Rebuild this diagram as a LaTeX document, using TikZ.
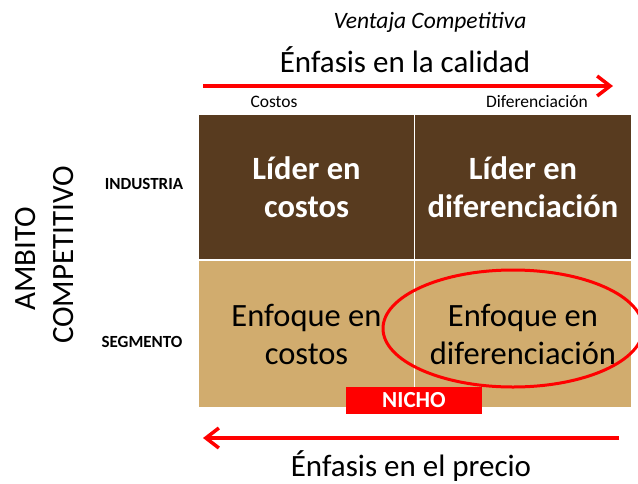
\documentclass[tikz,border=0pt]{standalone}
\usepackage{fontspec}
\setmainfont{Carlito}
\usetikzlibrary{arrows.meta,shapes.geometric}
\definecolor{cafe}{HTML}{583B1F}
\definecolor{arena}{HTML}{D1AC6E}
\definecolor{rojo}{HTML}{FF0000}

\begin{document}
\begin{tikzpicture}[x=1pt,y=-1pt]
% Define the node styles
\tikzstyle{celda} = [draw=white, line width=1.5pt, minimum width=217pt, align=center, inner sep=0pt]
\tikzstyle{lider} = [celda, fill=cafe, text=white, minimum height=146pt, font=\fontsize{32.5}{38}\selectfont\bfseries]
\tikzstyle{enfoque} = [celda, fill=arena, text=black, minimum height=148pt, font=\fontsize{32.5}{38}\selectfont]
\tikzstyle{nivel} = [anchor=base, font=\fontsize{17}{20}\selectfont\bfseries]
\tikzstyle{eje} = [anchor=base, font=\fontsize{17.5}{20}\selectfont]
\tikzstyle{titulo} = [anchor=base, font=\fontsize{31}{36}\selectfont]
\tikzstyle{ambito} = [anchor=base, rotate=90, font=\fontsize{31}{36}\selectfont]
\tikzstyle{flecha} = [draw=rojo, line width=3.5pt, -{Straight Barb[length=13pt,width=20pt]}]

\useasboundingbox (0,0) rectangle (638,483);

% Define the nodes
\node[anchor=base, font=\fontsize{23.5}{26}\selectfont\itshape] (VC) at (430,28) {Ventaja Competitiva};
\node[titulo] (EC) at (405,72) {Énfasis en la calidad};
\node[eje] (CO) at (274,107) {Costos};
\node[eje] (DI) at (537,107) {Diferenciación};

\node[lider] (LC) at (306.5,187) {Líder en\\costos};
\node[lider] (LD) at (523,187) {Líder en\\diferenciación};
\node[enfoque] (FC) at (306.5,334) {Enfoque en\\costos};
\node[enfoque] (FD) at (523,334) {Enfoque en\\diferenciación};

\node[nivel] (IN) at (144,189) {INDUSTRIA};
\node[nivel] (SE) at (142,347) {SEGMENTO};
\node[ambito] (AM) at (35.5,259) {AMBITO};
\node[ambito] (CP) at (73,255) {COMPETITIVO};

\node[draw=rojo, line width=3pt, ellipse, minimum width=260pt, minimum height=117pt, inner sep=0pt] (EL) at (513,328.5) {};
\node[fill=rojo, text=white, minimum width=136pt, minimum height=27pt, inner sep=0pt, font=\fontsize{23}{26}\selectfont\bfseries] (NI) at (414,400.5) {NICHO};

\node[titulo] (EP) at (411,476) {Énfasis en el precio};

% Define the arrows
\coordinate (A1) at (203,86);
\coordinate (A2) at (613,86);
\coordinate (B1) at (619,438);
\coordinate (B2) at (203,438);
\draw[flecha] (A1) -- (A2);
\draw[flecha] (B1) -- (B2);

\end{tikzpicture}
\end{document}
